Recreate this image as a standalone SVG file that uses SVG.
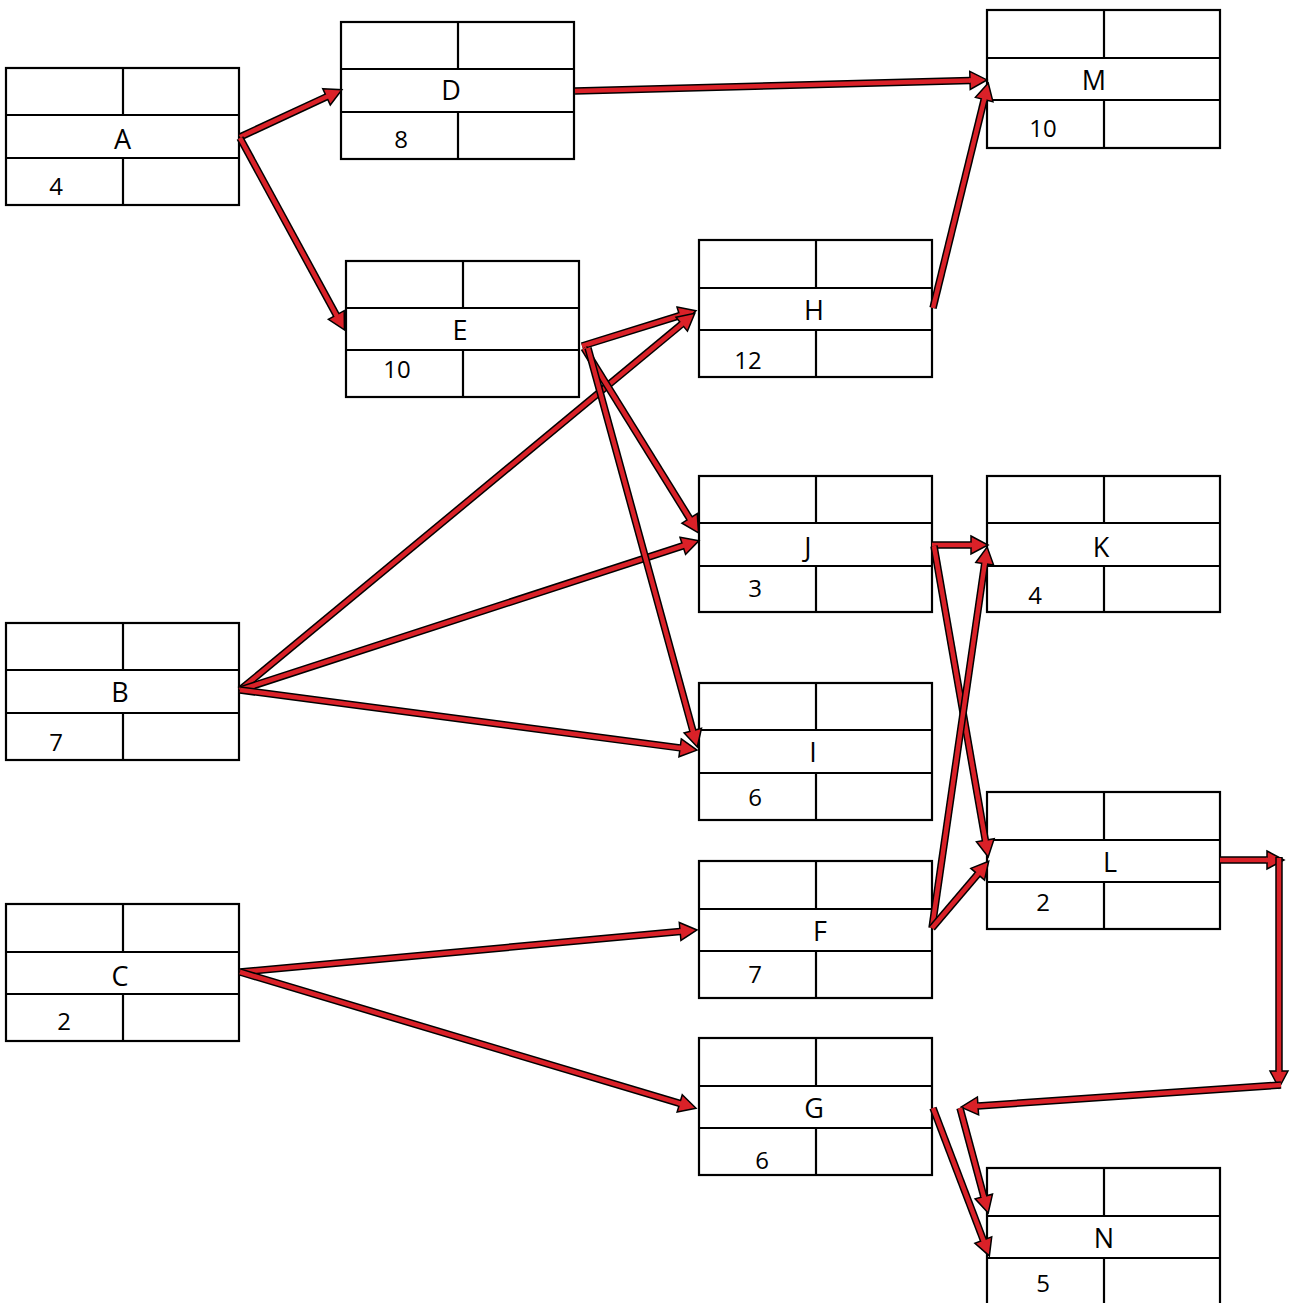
<svg xmlns="http://www.w3.org/2000/svg" width="1293" height="1303" viewBox="0 0 1293 1303">
<style>
.box rect{fill:#fff;stroke:#000;stroke-width:2.2}
.box line{stroke:#000;stroke-width:2.2}
.lbl{font-family:"Open Sans","Liberation Sans",sans-serif;font-size:27px;text-anchor:middle;fill:#000}
.num{font-family:"Open Sans","Liberation Sans",sans-serif;font-size:24px;text-anchor:middle;fill:#000}
.o{stroke:#000;stroke-width:7.5;marker-end:url(#head)}
.f{stroke:#da2128;stroke-width:4.5;marker-end:url(#plug)}
</style>
<defs>
<marker id="head" markerUnits="userSpaceOnUse" viewBox="-4 -12 24 24" markerWidth="24" markerHeight="24" refX="0" refY="0" orient="auto" overflow="visible">
<path d="M0,-9 L17,0 L0,9 Z" fill="#da2128" stroke="#000" stroke-width="1.5" stroke-linejoin="miter"/>
</marker>
<marker id="plug" markerUnits="userSpaceOnUse" viewBox="-4 -12 24 24" markerWidth="24" markerHeight="24" refX="0" refY="0" orient="auto" overflow="visible">
<rect x="-1" y="-2.25" width="4" height="4.5" fill="#da2128"/>
</marker>
</defs>
<rect width="1293" height="1303" fill="#fff"/>

<g id="node-A" class="box"><rect x="6" y="68" width="233" height="137"/><line x1="6" y1="115" x2="239" y2="115"/><line x1="6" y1="158" x2="239" y2="158"/><line x1="123" y1="68" x2="123" y2="115"/><line x1="123" y1="158" x2="123" y2="205"/><text class="lbl" x="122.5" y="149">A</text><text class="num" x="56" y="195">4</text></g>
<g id="node-D" class="box"><rect x="341" y="22" width="233" height="137"/><line x1="341" y1="69" x2="574" y2="69"/><line x1="341" y1="112" x2="574" y2="112"/><line x1="458" y1="22" x2="458" y2="69"/><line x1="458" y1="112" x2="458" y2="159"/><text class="lbl" x="451" y="100">D</text><text class="num" x="401" y="148">8</text></g>
<g id="node-M" class="box"><rect x="987" y="10" width="233" height="138"/><line x1="987" y1="58" x2="1220" y2="58"/><line x1="987" y1="100" x2="1220" y2="100"/><line x1="1104" y1="10" x2="1104" y2="58"/><line x1="1104" y1="100" x2="1104" y2="148"/><text class="lbl" x="1094" y="90">M</text><text class="num" x="1043" y="137">10</text></g>
<g id="node-E" class="box"><rect x="346" y="261" width="233" height="136"/><line x1="346" y1="308" x2="579" y2="308"/><line x1="346" y1="350" x2="579" y2="350"/><line x1="463" y1="261" x2="463" y2="308"/><line x1="463" y1="350" x2="463" y2="397"/><text class="lbl" x="460" y="340">E</text><text class="num" x="397" y="378">10</text></g>
<g id="node-H" class="box"><rect x="699" y="240" width="233" height="137"/><line x1="699" y1="288" x2="932" y2="288"/><line x1="699" y1="330" x2="932" y2="330"/><line x1="816" y1="240" x2="816" y2="288"/><line x1="816" y1="330" x2="816" y2="377"/><text class="lbl" x="814" y="320">H</text><text class="num" x="748" y="369">12</text></g>
<g id="node-J" class="box"><rect x="699" y="476" width="233" height="136"/><line x1="699" y1="523" x2="932" y2="523"/><line x1="699" y1="566" x2="932" y2="566"/><line x1="816" y1="476" x2="816" y2="523"/><line x1="816" y1="566" x2="816" y2="612"/><text class="lbl" x="808" y="557">J</text><text class="num" x="755" y="597">3</text></g>
<g id="node-K" class="box"><rect x="987" y="476" width="233" height="136"/><line x1="987" y1="523" x2="1220" y2="523"/><line x1="987" y1="566" x2="1220" y2="566"/><line x1="1104" y1="476" x2="1104" y2="523"/><line x1="1104" y1="566" x2="1104" y2="612"/><text class="lbl" x="1101" y="557">K</text><text class="num" x="1035" y="604">4</text></g>
<g id="node-B" class="box"><rect x="6" y="623" width="233" height="137"/><line x1="6" y1="670" x2="239" y2="670"/><line x1="6" y1="713" x2="239" y2="713"/><line x1="123" y1="623" x2="123" y2="670"/><line x1="123" y1="713" x2="123" y2="760"/><text class="lbl" x="120" y="702">B</text><text class="num" x="56" y="751">7</text></g>
<g id="node-I" class="box"><rect x="699" y="683" width="233" height="137"/><line x1="699" y1="730" x2="932" y2="730"/><line x1="699" y1="773" x2="932" y2="773"/><line x1="816" y1="683" x2="816" y2="730"/><line x1="816" y1="773" x2="816" y2="820"/><text class="lbl" x="813" y="762">I</text><text class="num" x="755" y="806">6</text></g>
<g id="node-L" class="box"><rect x="987" y="792" width="233" height="137"/><line x1="987" y1="840" x2="1220" y2="840"/><line x1="987" y1="882" x2="1220" y2="882"/><line x1="1104" y1="792" x2="1104" y2="840"/><line x1="1104" y1="882" x2="1104" y2="929"/><text class="lbl" x="1110" y="872">L</text><text class="num" x="1043" y="911">2</text></g>
<g id="node-F" class="box"><rect x="699" y="861" width="233" height="137"/><line x1="699" y1="909" x2="932" y2="909"/><line x1="699" y1="951" x2="932" y2="951"/><line x1="816" y1="861" x2="816" y2="909"/><line x1="816" y1="951" x2="816" y2="998"/><text class="lbl" x="820" y="941">F</text><text class="num" x="755" y="983">7</text></g>
<g id="node-C" class="box"><rect x="6" y="904" width="233" height="137"/><line x1="6" y1="952" x2="239" y2="952"/><line x1="6" y1="994" x2="239" y2="994"/><line x1="123" y1="904" x2="123" y2="952"/><line x1="123" y1="994" x2="123" y2="1041"/><text class="lbl" x="120" y="986">C</text><text class="num" x="64" y="1030">2</text></g>
<g id="node-G" class="box"><rect x="699" y="1038" width="233" height="137"/><line x1="699" y1="1086" x2="932" y2="1086"/><line x1="699" y1="1128" x2="932" y2="1128"/><line x1="816" y1="1038" x2="816" y2="1086"/><line x1="816" y1="1128" x2="816" y2="1175"/><text class="lbl" x="814" y="1118">G</text><text class="num" x="762" y="1169">6</text></g>
<g id="node-N" class="box"><rect x="987" y="1168" width="233" height="137"/><line x1="987" y1="1216" x2="1220" y2="1216"/><line x1="987" y1="1258" x2="1220" y2="1258"/><line x1="1104" y1="1168" x2="1104" y2="1216"/><line x1="1104" y1="1258" x2="1104" y2="1305"/><text class="lbl" x="1104" y="1248">N</text><text class="num" x="1043" y="1292">5</text></g>

<g id="connectors">
<g><line class="o" x1="240" y1="137" x2="326.5" y2="96.8"/><line class="f" x1="240" y1="137" x2="326.5" y2="96.8"/></g>
<g><line class="o" x1="240" y1="138" x2="336.3" y2="315"/><line class="f" x1="240" y1="138" x2="336.3" y2="315"/></g>
<g><line class="o" x1="575" y1="91" x2="970" y2="80.4"/><line class="f" x1="575" y1="91" x2="970" y2="80.4"/></g>
<g><line class="o" x1="933" y1="308" x2="984.2" y2="99.5"/><line class="f" x1="933" y1="308" x2="984.2" y2="99.5"/></g>
<g><line class="o" x1="582" y1="346" x2="679.7" y2="315.7"/><line class="f" x1="582" y1="346" x2="679.7" y2="315.7"/></g>
<g><line class="o" x1="240" y1="690" x2="681.7" y2="324.2"/><line class="f" x1="240" y1="690" x2="681.7" y2="324.2"/></g>
<g><line class="o" x1="584" y1="348" x2="689.6" y2="518.4"/><line class="f" x1="584" y1="348" x2="689.6" y2="518.4"/></g>
<g><line class="o" x1="240" y1="690" x2="682.8" y2="545.9"/><line class="f" x1="240" y1="690" x2="682.8" y2="545.9"/></g>
<g><line class="o" x1="588" y1="348" x2="692.8" y2="730.6"/><line class="f" x1="588" y1="348" x2="692.8" y2="730.6"/></g>
<g><line class="o" x1="240" y1="690" x2="680.1" y2="747.9"/><line class="f" x1="240" y1="690" x2="680.1" y2="747.9"/></g>
<g><line class="o" x1="932" y1="545" x2="971" y2="545"/><line class="f" x1="932" y1="545" x2="971" y2="545"/></g>
<g><line class="o" x1="934" y1="546" x2="985.3" y2="840.2"/><line class="f" x1="934" y1="546" x2="985.3" y2="840.2"/></g>
<g><line class="o" x1="932" y1="928" x2="984.7" y2="563.8"/><line class="f" x1="932" y1="928" x2="984.7" y2="563.8"/></g>
<g><line class="o" x1="932" y1="928" x2="977.7" y2="874.2"/><line class="f" x1="932" y1="928" x2="977.7" y2="874.2"/></g>
<g><line class="o" x1="1220" y1="860" x2="1267" y2="860"/><line class="f" x1="1220" y1="860" x2="1267" y2="860"/></g>
<g><line class="o" x1="1279" y1="857" x2="1279" y2="1071"/><line class="f" x1="1279" y1="858" x2="1279" y2="1071"/></g>
<g><line class="o" x1="1281" y1="1085" x2="978" y2="1105.9"/><line class="f" x1="1281" y1="1085" x2="978" y2="1105.9"/></g>
<g><line class="o" x1="960" y1="1108" x2="983.8" y2="1196.5"/><line class="f" x1="960" y1="1108" x2="983.8" y2="1196.5"/></g>
<g><line class="o" x1="933" y1="1108" x2="983.3" y2="1240"/><line class="f" x1="933" y1="1108" x2="983.3" y2="1240"/></g>
<g><line class="o" x1="240" y1="972" x2="680.1" y2="931.5"/><line class="f" x1="240" y1="972" x2="680.1" y2="931.5"/></g>
<g><line class="o" x1="240" y1="972" x2="679.7" y2="1103.4"/><line class="f" x1="240" y1="972" x2="679.7" y2="1103.4"/></g>
</g>
</svg>
